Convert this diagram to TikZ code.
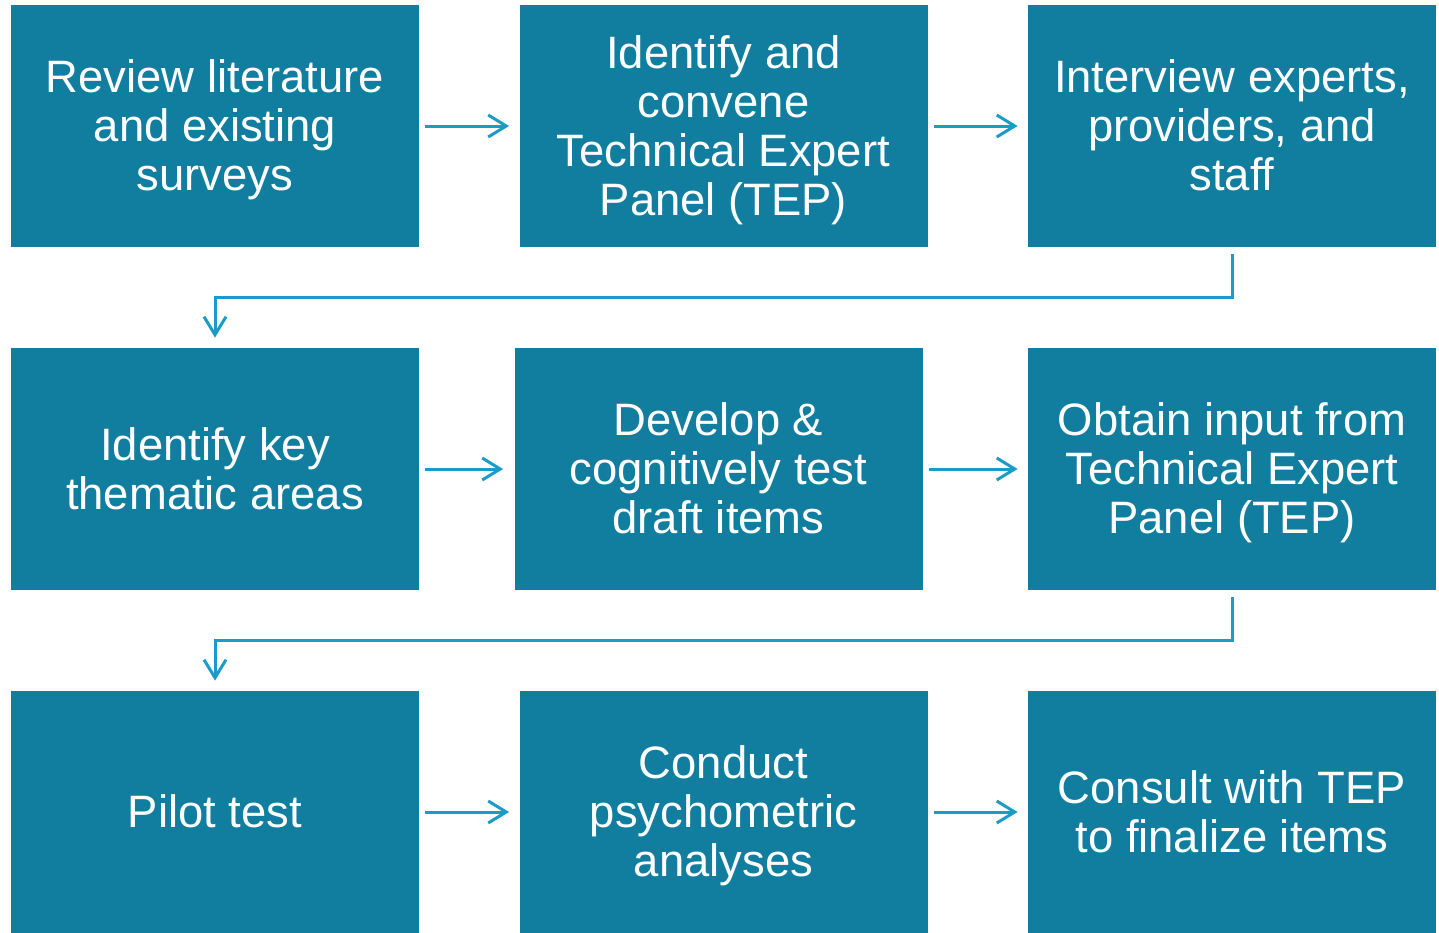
\documentclass[tikz,border=0pt]{standalone}
\usepackage{fontspec}
\setmainfont{Liberation Sans}
\usetikzlibrary{arrows.meta}
\definecolor{boxblue}{RGB}{17,126,160}
\definecolor{flowblue}{RGB}{27,155,200}
% fixed line extents, so every box centres its text the same way
\newcommand\ascstrut{\rule{0pt}{0.905em}}
\newcommand\descstrut{\rule[-0.212em]{0pt}{0pt}}
\begin{document}
\begin{tikzpicture}[x=0.5pt,y=-0.5pt,
    stage/.style={fill=boxblue,text=white,minimum width=204pt,minimum height=121pt,
      text width=200pt,align=flush center,inner sep=0pt,font=\fontsize{22.7}{24.5}\selectfont,
      execute at begin node=\ascstrut,execute at end node=\descstrut},
    flow/.style={draw=flowblue,line width=1.5pt,
      arrows={-Straight Barb[length=9pt,width=11pt,line width=1.5pt]}}]
  \useasboundingbox (0,0) rectangle (1439,932);

  \node[stage] (review)  at (215,126)  {Review literature\\and existing\\surveys};
  \node[stage] (convene) at (723.5,126) {Identify and\\convene\\Technical Expert\\Panel (TEP)};
  \node[stage] (experts) at (1232,126) {Interview experts,\\providers, and\\staff};

  \node[stage] (themes)  at (215,469)  {Identify key\\thematic areas};
  \node[stage] (develop) at (718.5,469) {Develop \&\\cognitively test\\draft items};
  \node[stage] (input)   at (1232,469) {Obtain input from\\Technical Expert\\Panel (TEP)};

  \node[stage] (pilot)   at (215,812)  {Pilot test};
  \node[stage] (psycho)  at (723.5,812) {Conduct\\psychometric\\analyses};
  \node[stage] (consult) at (1232,812) {Consult with TEP\\to finalize items};

  \draw[flow,shorten <=3pt,shorten >=5pt] (review) -- (convene);
  \draw[flow,shorten <=3pt,shorten >=5pt] (convene) -- (experts);
  \draw[flow,shorten <=3pt,shorten >=5.5pt] (themes) -- (develop);
  \draw[flow,shorten <=3pt,shorten >=5pt] (develop) -- (input);
  \draw[flow,shorten <=3pt,shorten >=5pt] (pilot) -- (psycho);
  \draw[flow,shorten <=3pt,shorten >=5pt] (psycho) -- (consult);

  % wrap round to the next row
  \draw[flow] ([yshift=-3.5pt]experts.south) -- ++(0,43) -| ([yshift=5pt]themes.north);
  \draw[flow] ([yshift=-3.5pt]input.south) -- ++(0,43) -| ([yshift=5pt]pilot.north);
\end{tikzpicture}
\end{document}
